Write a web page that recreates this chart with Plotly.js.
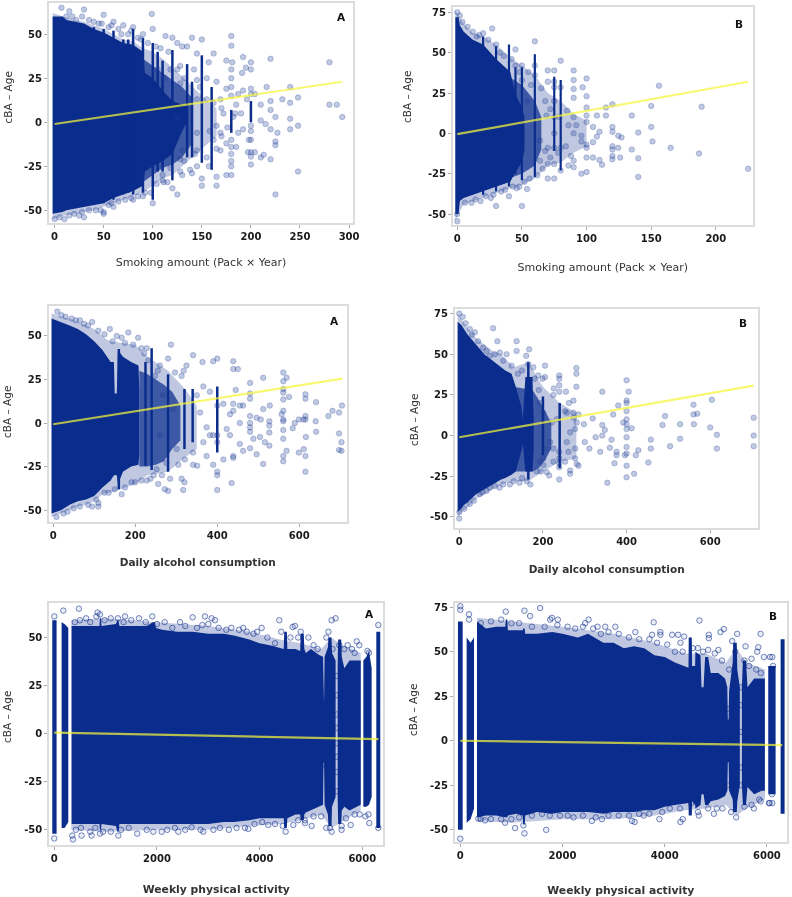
<!DOCTYPE html>
<html><head><meta charset="utf-8">
<script src="https://cdn.plot.ly/plotly-3.0.1.min.js"></script>
<style>html,body{margin:0;padding:0;background:#fff}#chart{width:792px;height:897px;filter:blur(0.35px)}</style>
</head><body><div id="chart"></div>
<script>
// ---------- shared tick labels ----------
const yTicksA = [-50,-25,0,25,50];
const yTextA = ["-50","-25","0","25","50"];
const yTicksB = [-50,-25,0,25,50,75];
const yTextB = ["-50","-25","0","25","50","75"];
const xTicksSmokeA = [0,50,100,150,200,250,300];
const xTicksSmokeB = [0,50,100,150,200];
const xTicksAlcohol = [0,200,400,600];
const xTicksActivity = [0,2000,4000,6000];
const titleSmoke = "Smoking amount (Pack × Year)";
const titleAlcohol = "Daily alcohol consumption";
const titleActivity = "Weekly physical activity";
const titleY = "cBA – Age";

// Cloud outlines are rows of [x, upper, lower]; null separates bands of the cloud.
// dense = solid part of the cloud, mid = mottled part, halo = outer fuzzy edge.

// ---------- panel 1: smoking A ----------
const p1Dense = [[-2,60,-52],[8,60,-51],[12,58,-50],[20,57,-49],[30,56,-48],[40,53,-47],[50,51,-46],[60,48,-43],[70,45,-41],[80,44,-39],[90,40,-36],[92,28,-28],[100,25,-25],[110,18,-22],[120,12,-18],[130,10,-5],[135,9,0]];
const p1Mid = [[85,38,-36],[100,32,-30],[110,28,-26],[120,24,-24],[130,20,-20],[140,14,-12]];
const p1Halo = [[-2,62,-55],[10,60,-53],[20,58,-52],[30,57,-51],[40,55,-50],[50,53,-48],[60,50,-46],[70,47,-44],[80,46,-42],[90,42,-40],[100,40,-36],[110,36,-32],[120,31,-30],[130,26,-25],[150,15,-15],[165,8,-8]];
const p1Columns = [[40,-47,54],[50,-46,53],[60,-44,52],[70,-41,47],[75,-40,47],[80,-41,53],[90,-40,48],[100,-44,45],[105,-28,40],[110,-28,35],[120,-33,41],[135,-20,33],[140,-20,23],[150,-23,38],[160,-27,20],[180,-6,7],[200,0,12]];
const p1Points = [[7,65],[30,64],[99,61.5],[50,61],[15,63],[280,34],[280,10],[287.5,10],[293,3],[248,-28],[225,-41],[220,36],[216,20],[240,20],[248,14],[232,13],[220,12],[240,11],[220,7],[225,3],[240,2],[248,-2],[240,-4],[227,-6],[220,-4],[225,-11],[225,-13],[220,-21],[213,-18.5],[210,-20],[210,10],[210,1],[215,-1],[180,49],[180,43.5],[150,47],[140,48],[125,-41],[120,-37.5],[192,37],[195,31],[200,34],[200,30],[191,28],[192,18],[196,13],[200,19],[204,16],[200,16],[187,16],[184,5],[182,3],[187,-6],[192,-4],[198,-10],[197,-17],[200,-19.5],[200,-24],[204,-17],[185,-14],[175,-30],[180,-30],[165,-31],[165,-36],[150,-36],[150,-32],[140,-29],[130,-30],[111,-34],[162,39],[157,34],[165,23],[175,35],[181,34],[175,19],[169,13],[162,11],[172,5],[165,-2],[169,-6],[162,-10],[175,-12],[169,-16],[155,-20],[165,-15],[157,-25],[145,39],[145,24],[145,13],[145,-6],[145,-16],[145,-25],[130,43],[125,45],[120,48],[113,49],[135,43],[128,32],[130,-16],[128,-21],[138,-27],[125,3],[138,13],[155,13],[180,30],[180,25],[180,20],[180,15],[180,-10],[180,-14],[180,-18],[180,-25],[180,-22],[200,-2],[200,-5],[200,-10],[200,-17],[100,-46],[90,-42],[80,-44],[60,-48],[50,-52],[50,-51],[30,-54],[25,-53],[10,-55],[0,-55],[70,55],[60,57],[80,54],[90,50],[100,53],[12,60],[18,60],[22,58],[28,60],[35,58],[40,57],[45,56],[48,56],[55,54],[58,55],[65,53],[68,50],[75,50],[78,52],[85,48],[88,47],[95,45],[103,43],[108,42],[116,40],[5,-54],[15,-53],[20,-52],[28,-51],[35,-50],[42,-50],[47,-50],[55,-47],[58,-46],[65,-45],[72,-44],[78,-43],[85,-42],[92,-40],[98,-40],[104,-35],[110,-33],[115,-34],[105,30],[112,25],[118,30],[125,30],[128,22],[132,25],[110,-30],[118,-26],[128,-28],[132,-22],[142,30],[148,20],[143,-18],[155,25],[158,-5],[170,-8],[170,8],[176,-3],[185,10],[190,5]];
const p1FitX = [0,293];
const p1FitY = [-1,23];

// ---------- panel 2: smoking B ----------
const p2Dense = [[-1.5,72,-50],[1,72,-50],[2,67,-42],[5,63,-40],[12,58,-38],[20,55,-36],[30,46,-33],[41,38,-30],[45,24,-24],[50,16,-18],[52,10,-10]];
const p2Mid = [[40,35,-28],[50,30,-25],[60,20,-20],[65,10,-10]];
const p2Halo = [[-1.5,76,-54],[5,68,-44],[12,62,-42],[20,60,-40],[30,55,-37],[41,47,-34],[50,42,-32],[60,36,-28],[70,25,-20],[80,20,-18],[90,12,-12],[100,8,-8]];
const p2Columns = [[20,-38,60],[30,-36,54],[40,-33,55],[45,-25,41],[50,-29,41],[60,-27,49],[75,-11,35],[80,-23,33]];
const p2Points = [[27,65],[60,57],[45,52],[80,45],[90,39],[70,39],[75,39],[100,34],[97,28.5],[100,23],[90,33],[90,27.5],[90,22],[156,29.5],[150,17],[189,16.5],[135,11],[120,18],[140,0.5],[150,4],[151,-5],[135,-10],[140,-15.5],[140,-27],[165,-9],[187,-12.5],[225,-22],[124.5,-1.5],[127,-2.5],[124.5,-9],[126,-15],[120,4],[120,1],[120,-8],[120,-10],[120,-14],[120,-16],[115,11],[115,16],[110,1],[108,-2],[105,-5.5],[110,-16.5],[112,-19.5],[105,-15],[100,-15],[100,-24],[96,-25],[100,-7],[100,-9],[100,16],[100,11],[100,7],[105,4],[108,11],[96,-1.5],[96,-5],[90,-17],[90,-21],[86,-20],[80,-23],[70,-9],[70,-28],[75,-28],[70,-19],[75,-19],[54,-34.5],[50,-45],[30,-45],[40,-39],[46,-34],[11,-43],[26,-40],[0,-54.5],[0,-50],[0,75],[50,33],[54,20],[69,11],[64,-4.5],[85,14],[86,5],[92,5],[79,10],[75,20],[75,28.5],[80,28.5],[75,10],[75,0],[75,-9],[80,-9],[90,10],[90,0],[64,-17],[68,-11],[70,32],[75,32],[60,42],[60,36],[50,42],[45,42],[30,55],[20,62],[15,60],[2,73],[4,69],[8,66],[12,63],[17,61],[24,58],[33,50],[36,48],[42,46],[48,38],[55,38],[57,30],[65,28],[68,20],[72,15],[6,-43],[14,-41],[18,-42],[22,-39],[28,-38],[34,-36],[37,-35],[43,-33],[48,-33],[52,-30],[56,-28],[62,-26],[66,-22],[72,-15],[78,-12],[84,-8],[88,-14]];
const p2FitX = [0,225];
const p2FitY = [-0.5,32];

// ---------- panel 3: alcohol A ----------
const p3Dense = [[-4,60,-52],[20,58,-50],[40,56,-47],[60,54,-45],[80,51,-44],[100,47,-42],[120,42,-37],[140,35,-33],[148,35,-30],[150,17,-30],[155,17,-30],[158,42,-35],[170,38,-28],[190,35,-25],[208,33,-24],[210,18,-18]];
const p3Mid = [[210,30,-25],[230,28,-25],[250,25,-24],[270,22,-22],[290,18,-15],[310,10,-10]];
const p3Halo = [[-4,63,-54],[20,61,-52],[40,60,-50],[60,58,-48],[80,56,-47],[100,54,-45],[120,50,-41],[130,48,-40],[140,47,-40],[200,45,-35],[230,38,-30],[280,30,-28],[320,20,-20],[350,10,-15]];
const p3Columns = [[160,-38,42.5],[225,-24.5,35],[240,-27,43],[280,-28,28],[320,-15,19.5],[340,-11,19.5],[400,-17,21]];
const p3Points = [[10,64],[287,45],[341,39],[400,37],[390,35.5],[439,35.5],[439,31],[450,31],[364,35],[325,33],[318,30],[561,29],[512,26],[569,26],[561,24],[480,23],[445,19],[561,19.5],[561,17.5],[480,17],[575,15],[615,16.5],[615,14],[480,14],[561,13.5],[641,12],[528,10],[512,8],[463,10],[439,11],[704,10],[681,7],[697,6],[671,4],[561,7],[557,5],[561,2],[561,1],[610,2],[599,2],[615,4],[615,2],[589,0],[584,-3],[640,1],[697,-6],[703,-11],[641,-5],[697,-15.5],[703,-16],[616,-8],[599,-17],[611,-15],[615,-19],[561,-4],[561,-9],[569,-16],[561,-19],[561,-22],[615,-28],[512,-23.5],[496,-18],[480,-14.5],[480,0],[480,4],[480,-2.5],[480,-5],[496,3],[506,2],[527,1],[527,-1.5],[527,-5.5],[527,-13],[516,-11],[504,-8],[488,-9],[463,-16],[439,-19],[439,-20],[435,-34.5],[400,-38.5],[400,-30],[400,-28],[415,-21],[390,-24],[351,-24.5],[341,-24],[317,-38.5],[320,-34],[313,-32],[280,-39],[272,-38],[256,-35],[237,-32],[191,-34],[167,-41],[110,-48],[95,-48],[110,-46],[455,0],[439,7],[431,5],[455,10],[374,-2.5],[382,-7],[366,-11],[374,-19],[358,6],[350,16],[366,21],[382,18],[415,11],[423,-3.5],[431,-7],[455,-12],[400,10],[400,-7],[400,-11],[390,-7],[341,-17],[321,-21],[301,-15],[276,-23],[252,-26.5],[260,-7],[268,16],[293,8],[297,29],[313,27],[280,37],[260,33],[248,27],[228,43],[207,49],[183,52],[167,49],[138,54],[85,56],[65,59],[20,62],[30,61],[45,60],[55,59],[75,57],[95,58],[110,53],[125,51],[145,47],[155,50],[175,46],[195,45],[215,43],[222,40],[232,36],[255,30],[8,-54],[25,-52],[35,-51],[50,-49],[65,-48],[85,-47],[105,-44],[125,-40],[135,-40],[150,-38],[175,-37],[200,-34],[215,-33],[228,-33],[245,-30],[265,-30],[285,-32],[305,-24]];
const p3FitX = [0,705];
const p3FitY = [-0.7,25.5];

// ---------- panel 4: alcohol B ----------
const p4Dense = [[-4,70,-47],[5,68,-45],[10,66,-43],[20,62,-41],[40,56,-36],[60,50,-33],[80,46,-30],[100,42,-27],[110,40,-26],[125,38,-24],[135,30,-22],[148,18,-10],[152,10,-5],[158,36,-22],[175,36,-22],[178,8,-8]];
const p4Mid = [[130,30,-22],[175,28,-22],[190,22,-20],[205,15,-15],[220,8,-8]];
const p4Halo = [[-4,75,-50],[10,70,-46],[20,66,-44],[40,60,-39],[60,56,-36],[80,52,-33],[100,50,-30],[130,42,-28],[165,45,-28],[200,30,-22],[240,20,-16],[280,14,-14]];
const p4Columns = [[165,-27,45],[200,-12,24],[240,-20,20]];
const p4Points = [[0,75],[8,73],[81,66],[91,58],[137,58],[137,52],[167,53],[160,49],[205,43],[189,37],[199,35],[205,36],[239,37],[239,35],[280,41.5],[280,38],[280,30],[226,29],[239,31],[239,27],[255,27],[273,21.5],[262,20],[253,15],[257,14],[273,14],[285,13],[274,11],[281,8],[298,7],[319,10.5],[342,27],[380,18.5],[368,13],[400,34],[405,27],[400,21.5],[400,20],[400,15],[392,8],[400,10],[400,7],[400,4],[412,4.5],[342,6.5],[348,3.5],[326,-1],[342,0],[364,-2.5],[300,-4],[311,-8],[337,-10],[360,-7.5],[376,-10],[376,-12],[371,-17],[354,-29],[400,-1],[400,-7],[400,-11],[396,-12],[400,-18.5],[400,-25.6],[418,-23.5],[422,-12],[428,-9],[452,-16.5],[458,-2.5],[458,-8],[486,6.5],[492,12],[528,7],[504,-6.5],[528,-2],[561,7],[560,13],[560,19],[569,13.5],[600,5],[604,22],[616,0.5],[616,-8],[704,11],[704,0],[704,-6.5],[239,-27],[215,-24.5],[209,-22.5],[185,-22],[161,-28],[144,-29],[121,-30],[96,-32],[73,-32],[49,-36],[0,-51],[0,-47],[265,-21.5],[265,-23.5],[277,-14],[281,-17.5],[285,-18.5],[253,-16],[239,-10],[239,-14],[239,-17],[239,-19.5],[225,-16],[225,-8],[217,-4],[209,-8],[201,-14],[201,-18],[193,-16],[257,-4],[265,2],[277,4],[261,-10],[277,-8],[221,8],[233,10],[201,14],[193,20],[225,25],[177,42],[165,44],[113,50],[97,51],[73,49],[57,54],[37,63.5],[25,65.5],[15,69],[30,62],[45,58],[65,52],[85,50],[105,46],[125,43],[140,38],[150,40],[180,35],[190,28],[12,-45],[25,-42],[35,-40],[55,-35],[65,-34],[85,-31],[105,-30],[130,-28],[150,-26],[170,-30],[195,-22]];
const p4FitX = [0,704];
const p4FitY = [-1,30.7];

// ---------- panel 5: activity A ----------
const p5Dense = [[-39,59,-52],[45,59,-52],null,[143,58,-49],[200,57,-49],[273,55,-46],null,[338,56,-47],[600,56,-47],[880,56,-47],[890,60,-50],[910,60,-50],[920,56,-47],[1200,57,-48],[1230,59,-51],[1250,59,-51],[1270,56,-47],[1500,56,-47],[1800,56,-47],[1920,58,-47],[1960,58,-47],[1980,55,-47],[2100,54,-47],[2400,53,-47],[2700,53,-47],[3000,52,-47],[3300,52,-46],[3500,51,-46],[3800,49,-45],[4000,47,-44],[4200,46,-44],[4470,44,-44],[4480,53,-49],[4530,53,-49],[4540,44,-44],[4700,44,-42],[4790,43,-42],[4800,52,-45],[4860,52,-45],[4870,44,-42],[4900,42,-41],[5000,44,-40],[5150,41,-38],[5235,40,-37],[5245,15,-15],[5255,15,-15],[5265,40,-37],[5330,45,-42],[5340,50,-48],[5400,50,-48],[5410,42,-38],[5450,40,-35],[5480,38,-33],null,[5520,36,-33],[5530,49,-47],[5590,49,-47],[5600,40,-40],[5650,34,-38],[5750,38,-40],[5900,38,-38],[5970,38,-37],null,[6020,38,-38],[6080,40,-38],[6130,43,-37],[6182,34,-33],null,[6273,53,-49],[6350,53,-49]];
const p5Halo = [[330,59,-50],[1000,60,-51],[2000,58,-50],[3000,56,-50],[3800,53,-48],[4400,49,-47],[4800,47,-45],[5200,44,-42],[5400,50,-49],[5600,46,-46],[5970,42,-40]];
const p5Columns = [];
const p5Points = [[0,61],[175,64],[480,65],[844,63],[890,62],[1377,61],[1909,61],[2695,60.5],[2935,61],[3065,60],[3130,59],[3000,57],[2883,56.5],[4383,59],[5403,59],[5480,60],[4643,55.5],[4688,56],[4039,55],[6312,56.5],[5552,46],[5714,46],[5890,48],[5941,46],[364,-55],[0,-54.5],[350,-53],[1247,-53],[1617,-52],[2416,-51],[2903,-51],[3714,-49],[3779,-49.5],[4169,-47.5],[4506,-51],[5403,-51],[5370,-49],[5773,-47.5],[6136,-46.5],[6312,-49],[5597,-48],[5597,-50],[5013,-48],[4883,-46.5],[4656,-47.5],[3227,-49],[2675,-48.7],[2091,-51],[1929,-51],[890,-52],[727,-53],[532,-53],[400,58],[500,59],[620,60],[700,58],[820,61],[980,59],[1100,60],[1240,60],[1350,58],[1500,59],[1650,60],[1780,58],[2000,57],[2150,58],[2300,55],[2450,58],[2550,56],[2780,55],[3200,55],[3350,54],[3450,55],[3600,54],[3680,55],[3750,53],[3880,52],[3950,53],[4150,50],[4300,47],[4420,53],[4600,50],[4750,50],[4800,53],[4950,50],[5050,46],[5130,44],[5300,50],[5340,53],[5420,44],[5650,44],[5800,44],[5850,42],[6100,43],[6130,42],[420,-50],[520,-49],[700,-51],[800,-49],[950,-51],[1100,-51],[1300,-50],[1450,-49],[1800,-50],[2200,-50],[2350,-49],[2550,-50],[2850,-50],[3100,-50],[3400,-50],[3550,-49],[3900,-47],[4050,-46],[4300,-47],[4450,-48],[4750,-45],[4880,-45],[5050,-43],[5200,-43],[5300,-49],[5680,-44],[5850,-42],[5950,-42],[6060,-43],[6120,-42],[5500,30],[5500,20],[5500,10],[5500,3],[5500,-5],[5500,-12],[5500,-20],[5500,-30],[5250,16],[5250,-16]];
const p5FitX = [0,6312];
const p5FitY = [0.5,-2.8];

// ---------- panel 6: activity B ----------
const p6Dense = [[-46,67,-50],[46,67,-50],null,[124,58,-46],[200,55,-44],[268,58,-38],null,[327,67,-43],[500,63,-42],[700,64,-42],[880,64,-43],[890,68,-43],[920,68,-43],[930,62,-42],[1100,62,-41],[1220,62,-42],[1230,63,-47],[1260,63,-47],[1270,60,-42],[1500,60,-40],[1800,61,-41],[2000,60,-40],[2300,58,-40],[2500,60,-40],[2800,55,-41],[3000,55,-40],[3200,52,-40],[3400,53,-40],[3600,52,-39],[3800,48,-39],[4000,47,-37],[4200,44,-36],[4465,41,-35],[4470,58,-42],[4530,58,-42],[4535,42,-34],[4595,42,-36],[4600,50,-38],[4700,48,-36],[4720,30,-30],[4760,30,-30],[4790,47,-36],[4850,47,-36],[4900,38,-34],[5050,38,-33],[5180,35,-31],[5225,30,-28],[5235,12,-12],[5250,12,-12],[5260,28,-28],[5330,44,-33],[5340,55,-40],[5410,55,-40],[5420,40,-34],[5470,30,-25],null,[5510,30,-25],[5530,45,-36],[5590,45,-36],[5620,30,-26],[5750,35,-30],[5900,35,-28],[5960,35,-28],null,[6026,42,-30],[6170,42,-30],null,[6268,57,-41],[6346,57,-41]];
const p6Halo = [[327,69,-45],[1000,67,-46],[2000,64,-44],[3000,60,-44],[3800,55,-42],[4400,49,-39],[4800,49,-38],[5200,44,-36],[5400,52,-42],[5600,44,-38],[5960,40,-33]];
const p6Columns = [];
const p6Points = [[0,75.5],[0,73.5],[170,71],[170,68],[889,72.5],[1255,73],[1366,70],[1562,74.5],[1791,69],[1758,68],[1908,68],[2510,68],[2444,66],[3784,66.5],[4680,67.5],[5157,62.7],[5092,61],[5876,60],[5418,60],[5582,53],[5830,52.5],[5810,50],[4863,59.5],[4863,57.6],[4144,59.5],[4261,59.5],[4379,58.5],[4307,55],[3915,61],[3915,59.5],[3752,59.5],[3033,64],[2836,64],[2686,64],[3425,61],[5941,47],[6105,47],[0,-55],[1072,-49],[1255,-52],[1680,-50],[2575,-45],[3360,-45],[3412,-45.6],[4307,-45.6],[4353,-44],[3895,-44],[5399,-43],[4961,-41],[4667,-42],[3588,-42],[2771,-44],[2216,-43],[1235,-47.5],[876,-46],[484,-44.7],[353,-43.7],[5745,-38],[6105,-35],[6052,-35],[5876,-34],[400,66],[600,67],[800,68],[1000,66],[1150,66],[1400,64],[1650,64],[1900,65],[2100,64],[2250,63],[2400,64],[2600,63],[2750,60],[2900,61],[3100,60],[3300,58],[3500,57],[3700,57],[3850,55],[4050,54],[4200,50],[4350,50],[4550,52],[4650,52],[4750,50],[4850,51],[4980,49],[5050,51],[5120,45],[5260,40],[5320,56],[5380,50],[5560,45],[5650,42],[5700,46],[5790,40],[5880,38],[6060,47],[6120,42],[400,-44],[600,-44],[800,-44],[1000,-44],[1150,-43],[1400,-42],[1600,-41],[1750,-42],[1950,-42],[2100,-42],[2400,-42],[2650,-43],[2900,-42],[3100,-42],[3300,-42],[3500,-41],[3700,-41],[3950,-40],[4100,-38],[4300,-38],[4520,-35],[4650,-40],[4850,-38],[5020,-38],[5130,-38],[5300,-40],[5560,-37],[5700,-36],[5850,-33],[6040,-35],[6100,-30],[5490,30],[5490,20],[5490,5],[5490,-15],[5490,-25],[5230,-25],[5230,18]];
const p6FitX = [0,6300];
const p6FitY = [0,-2.4];

// ---------- layout geometry and styling (page pixels) ----------
const W = 792, H = 897;
const DENSE = "#0a2c8c", MID = "rgba(10,44,140,0.72)", HALO = "rgba(10,44,140,0.26)", FIT = "rgba(245,245,60,0.72)";
const panels = [
 {id:"",  box:[49,3,353,223],  xr:[-5.7,304],  yr:[-57.2,67.7], xv:xTicksSmokeA, yv:yTicksA, yt:yTextA, xt:titleSmoke, tb:false, ts:11, xs:17, tag:"A", tagAt:[341,17], yAt:[7.5,98], d:p1Dense, m:p1Mid, h:p1Halo, c:p1Columns, p:p1Points, f:[p1FitX,p1FitY], hollow:false, cw:2.5},
 {id:"2", box:[453,7,752.7,225], xr:[-3.3,228.5], yr:[-56.8,78.3], xv:xTicksSmokeB, yv:yTicksB, yt:yTextB, xt:titleSmoke, tb:false, ts:11, xs:20, tag:"B", tagAt:[739,24], yAt:[407,97], d:p2Dense, m:p2Mid, h:p2Halo, c:p2Columns, p:p2Points, f:[p2FitX,p2FitY], hollow:false, cw:2.2},
 {id:"3", box:[48.7,305.7,346.7,521.7], xr:[-11,715.6], yr:[-56.7,67.4], xv:xTicksAlcohol, yv:yTicksA, yt:yTextA, xt:titleAlcohol, tb:true, ts:10.5, xs:19, tag:"A", tagAt:[334,321], yAt:[7,412], d:p3Dense, m:p3Mid, h:p3Halo, c:p3Columns, p:p3Points, f:[p3FitX,p3FitY], hollow:false, cw:2.5},
 {id:"4", box:[455,309,758.3,527.7], xr:[-10.3,715], yr:[-56.6,77.8], xv:xTicksAlcohol, yv:yTicksB, yt:yTextB, xt:titleAlcohol, tb:true, ts:10.5, xs:20, tag:"B", tagAt:[743,323], yAt:[414,420], d:p4Dense, m:p4Mid, h:p4Halo, c:p4Columns, p:p4Points, f:[p4FitX,p4FitY], hollow:false, cw:2.5},
 {id:"5", box:[49.3,603.3,383.3,845], xr:[-97,6409], yr:[-57.9,67.8], xv:xTicksActivity, yv:yTicksA, yt:yTextA, xt:titleActivity, tb:true, ts:10.8, xs:22, tag:"A", tagAt:[369,614], yAt:[7,717], d:p5Dense, m:null, h:p5Halo, c:p5Columns, p:p5Points, f:[p5FitX,p5FitY], hollow:true, cw:3},
 {id:"6", box:[455,602.7,786.7,842.3], xr:[-104,6387], yr:[-57,77.5], xv:xTicksActivity, yv:yTicksB, yt:yTextB, xt:titleActivity, tb:true, ts:10.8, xs:27, tag:"B", tagAt:[773,616], yAt:[413,710], d:p6Dense, m:null, h:p6Halo, c:p6Columns, p:p6Points, f:[p6FitX,p6FitY], hollow:true, cw:3}
];

// Closes each null-separated band of [x, upper, lower] rows into a polygon.
function band(rows){
  const px = [], py = [];
  let seg = [];
  const flush = () => {
    if(!seg.length) return;
    seg.forEach(r => {px.push(r[0]); py.push(r[1]);});
    seg.slice().reverse().forEach(r => {px.push(r[0]); py.push(r[2]);});
    px.push(seg[0][0]); py.push(seg[0][1]);
    px.push(null); py.push(null);
    seg = [];
  };
  rows.forEach(r => { if(r === null) flush(); else seg.push(r); });
  flush();
  return {x:px, y:py};
}

const traces = [], annotations = [];
const layout = {
  width:W, height:H, margin:{l:0,r:0,t:0,b:0}, showlegend:false,
  paper_bgcolor:"#fff", plot_bgcolor:"#fff", annotations
};
const tickFont = {family:"DejaVu Sans", size:10, color:"#1a1a1a"};
const boldTick = s => "<b>" + s + "</b>";

panels.forEach(P => {
  const [l,t,r,b] = P.box;
  const common = {showline:true, mirror:true, linecolor:"#dcdcdc", linewidth:2, showgrid:false, zeroline:false,
    ticks:"outside", ticklen:3, tickcolor:"#aaa", tickfont:tickFont};
  layout["xaxis"+P.id] = Object.assign({}, common, {
    domain:[l/W, r/W], range:P.xr, anchor:"y"+P.id, tickmode:"array", tickvals:P.xv, ticktext:P.xv.map(v => boldTick(String(v))),
    title:{text:P.xt, standoff:P.xs, font:{family:"DejaVu Sans", size:P.ts, color:"#333", weight:P.tb?700:400}}
  });
  layout["yaxis"+P.id] = Object.assign({}, common, {
    domain:[1-b/H, 1-t/H], range:P.yr, anchor:"x"+P.id, tickmode:"array", tickvals:P.yv, ticktext:P.yt.map(boldTick)
  });
  const axes = {xaxis:"x"+P.id, yaxis:"y"+P.id, hoverinfo:"skip"};
  const addBand = (rows, color) => {
    const poly = band(rows);
    traces.push(Object.assign({type:"scatter", mode:"lines", x:poly.x, y:poly.y, fill:"toself", fillcolor:color, line:{width:0}}, axes));
  };
  addBand(P.h, HALO);
  if(P.m) addBand(P.m, MID);
  addBand(P.d, DENSE);
  if(P.c.length){
    const cx = [], cy = [];
    P.c.forEach(([x,lo,hi]) => { cx.push(x,x,null); cy.push(lo,hi,null); });
    traces.push(Object.assign({type:"scatter", mode:"lines", x:cx, y:cy, line:{width:P.cw,color:DENSE}}, axes));
  }
  traces.push(Object.assign({type:"scatter", mode:"markers", x:P.p.map(q=>q[0]), y:P.p.map(q=>q[1]),
    marker: P.hollow
      ? {symbol:"circle", size:5.5, color:"rgba(10,44,140,0.08)", line:{width:1,color:"rgba(10,44,140,0.55)"}}
      : {symbol:"circle", size:5.5, color:"rgba(30,60,150,0.28)", line:{width:0.8,color:"rgba(30,60,150,0.32)"}}
  }, axes));
  traces.push(Object.assign({type:"scatter", mode:"lines", x:P.f[0], y:P.f[1], line:{width:2.2,color:FIT}}, axes));
  annotations.push({xref:"paper", yref:"paper", x:P.tagAt[0]/W, y:1-P.tagAt[1]/H, xanchor:"center", yanchor:"middle", text:P.tag, showarrow:false,
    font:{family:"DejaVu Sans", size:10.5, color:"#111", weight:700}});
  annotations.push({xref:"paper", yref:"paper", x:P.yAt[0]/W, y:1-P.yAt[1]/H, xanchor:"center", yanchor:"middle", textangle:-90, text:titleY, showarrow:false,
    font:{family:"DejaVu Sans", size:10.5, color:"#333"}});
});

Plotly.newPlot("chart", traces, layout, {displayModeBar:false, staticPlot:true});
</script></body></html>
